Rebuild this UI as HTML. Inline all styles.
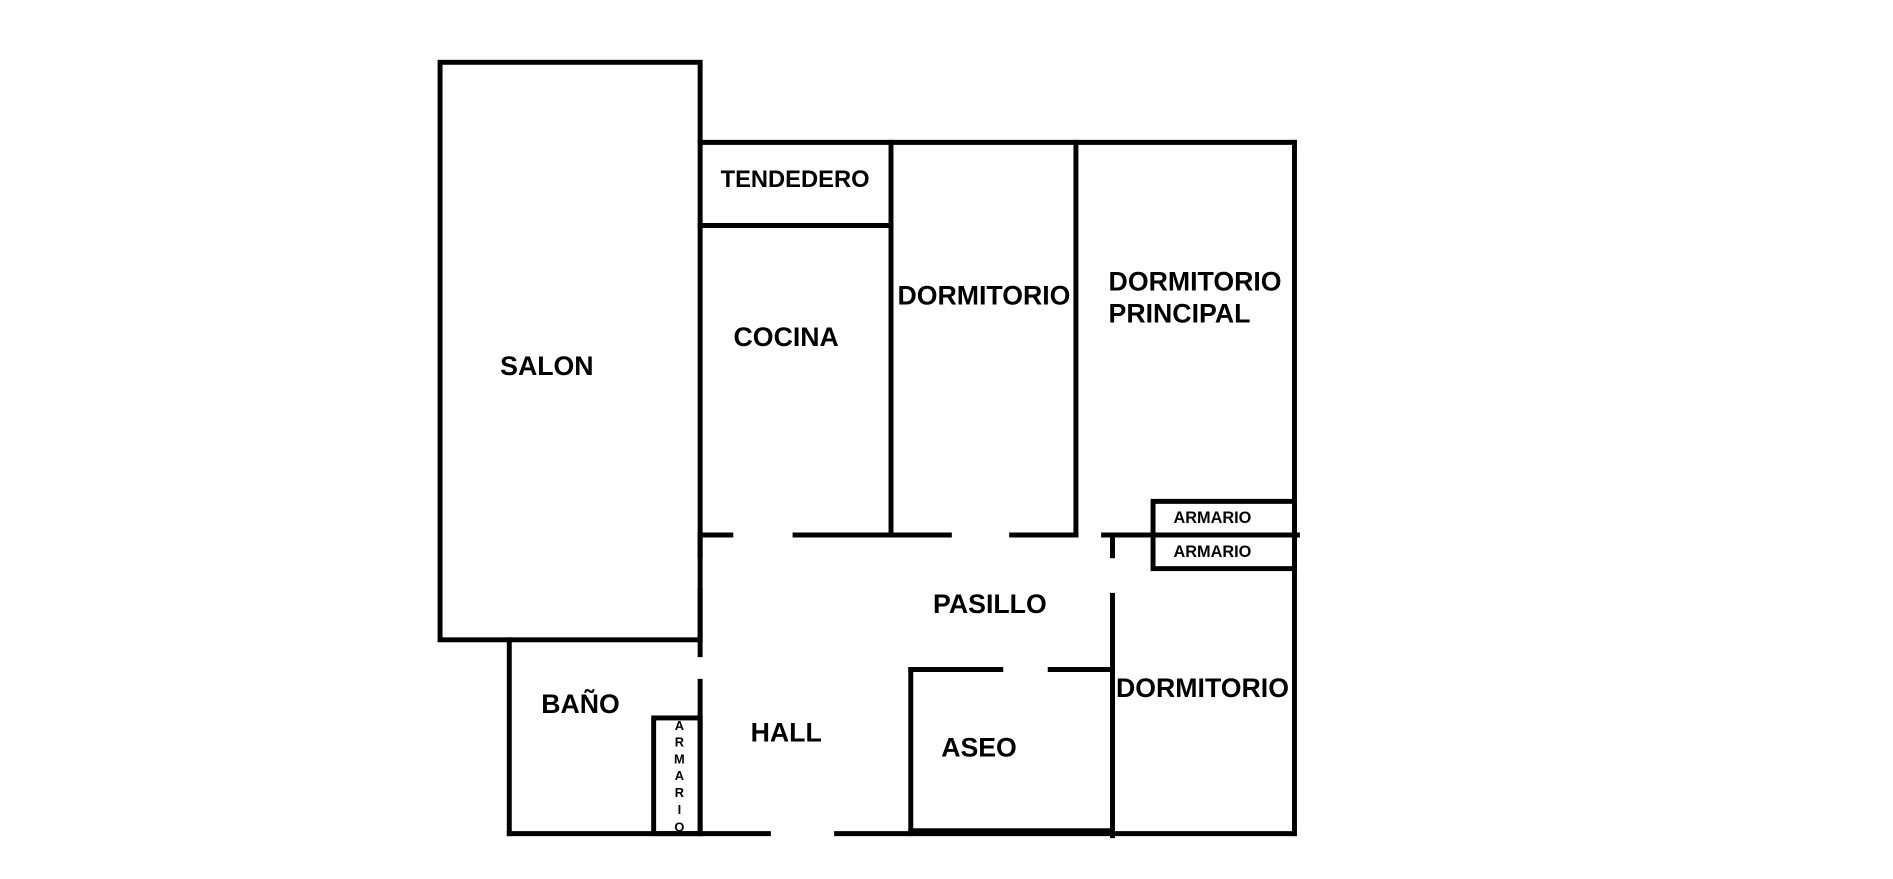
<!DOCTYPE html>
<html><head><meta charset="utf-8"><style>
body{margin:0;background:#fff}
svg text{font-family:"Liberation Sans",Arial,sans-serif;font-weight:bold;fill:#000}
</style></head><body>
<svg width="1893" height="874" viewBox="0 0 1893 874" xmlns="http://www.w3.org/2000/svg">
<g transform="scale(0.9889)">
<g stroke="#000" stroke-width="5" fill="none" stroke-linecap="square">
<rect x="445" y="63" width="263" height="584"/>
<line x1="708" y1="144" x2="1309" y2="144"/>
<line x1="1309" y1="144" x2="1309" y2="843"/>
<line x1="708" y1="228" x2="901" y2="228"/>
<line x1="901" y1="144" x2="901" y2="541"/>
<line x1="1088" y1="144" x2="1088" y2="541"/>
<line x1="708" y1="541" x2="739" y2="541"/>
<line x1="804" y1="541" x2="960" y2="541"/>
<line x1="1023" y1="541" x2="1088" y2="541"/>
<line x1="1116" y1="541" x2="1312" y2="541"/>
<line x1="708" y1="541" x2="708" y2="562"/>
<line x1="708" y1="597" x2="708" y2="662"/>
<line x1="708" y1="689" x2="708" y2="843"/>
<line x1="515" y1="647" x2="515" y2="843"/>
<line x1="515" y1="843" x2="777" y2="843"/>
<line x1="846" y1="843" x2="1309" y2="843"/>
<rect x="661" y="726" width="47" height="117"/>
<line x1="921" y1="677" x2="921" y2="843"/>
<line x1="921" y1="677" x2="1012" y2="677"/>
<line x1="1062" y1="677" x2="1125" y2="677"/>
<line x1="921" y1="840" x2="1125" y2="840"/>
<line x1="1125" y1="541" x2="1125" y2="562"/>
<line x1="1125" y1="602" x2="1125" y2="845"/>
<rect x="1166" y="507" width="143" height="68"/>
</g>
<g font-size="27">
<text x="804" y="189" text-anchor="middle" font-size="24">TENDEDERO</text>
<text x="995" y="308" text-anchor="middle">DORMITORIO</text>
<text x="1121" y="294">DORMITORIO</text>
<text x="1121" y="326">PRINCIPAL</text>
<text x="795" y="350" text-anchor="middle">COCINA</text>
<text x="553" y="379" text-anchor="middle">SALON</text>
<text x="1001" y="620" text-anchor="middle">PASILLO</text>
<text x="1216" y="705" text-anchor="middle">DORMITORIO</text>
<text x="587" y="721" text-anchor="middle">BAÑO</text>
<text x="795" y="750" text-anchor="middle">HALL</text>
<text x="990" y="765" text-anchor="middle">ASEO</text>
</g>
<g font-size="16.5" text-anchor="middle">
<text x="1226" y="529">ARMARIO</text>
<text x="1226" y="563">ARMARIO</text>
</g>
<g font-size="13" text-anchor="middle" font-weight="normal">
<text x="687" y="738">A</text>
<text x="687" y="755">R</text>
<text x="687" y="772">M</text>
<text x="687" y="789">A</text>
<text x="687" y="806">R</text>
<text x="687" y="823">I</text>
<text x="687" y="841">O</text>
</g>
</g>
</svg>
</body></html>
